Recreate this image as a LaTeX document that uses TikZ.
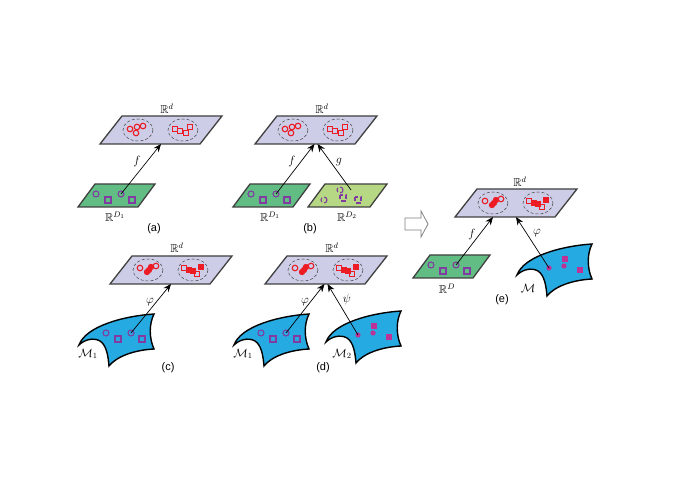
\documentclass[tikz,border=0pt]{standalone}
\usepackage{amsmath}
\usepackage{amssymb}
\usepackage{fontspec}
\newfontfamily\arialfont{Liberation Sans}
\usetikzlibrary{arrows.meta}
\definecolor{planelilac}{RGB}{205,205,232}
\definecolor{edgegray}{RGB}{64,64,64}
\definecolor{planegreen}{RGB}{97,189,132}
\definecolor{palegreen}{RGB}{182,216,132}
\definecolor{manicyan}{RGB}{38,170,226}
\definecolor{markred}{RGB}{237,28,36}
\definecolor{markpurple}{RGB}{128,60,160}
\definecolor{markmagenta}{RGB}{190,50,150}
\definecolor{hollowgray}{RGB}{128,128,128}

\tikzset{
  plane/.style={draw=edgegray,line width=1.3pt},
  clus/.style={draw=edgegray,densely dashed,line width=0.5pt},
  redpt/.style={draw=markred,line width=1.1pt},
  redfill/.style={draw=markred,fill=markred,line width=1.1pt},
  purpt/.style={draw=markpurple,line width=1.1pt},
  brokenpt/.style={purpt,dash pattern=on 4.5pt off 2.5pt},
  dotpt/.style={fill=markmagenta},
  maparrow/.style={-{Stealth[length=8pt,width=6.5pt]},line width=0.7pt},
  sheetstyle/.style={draw=black,fill=manicyan,line width=1.4pt},
  mathlbl/.style={font=\fontsize{11.5}{13}\selectfont},
  panel/.style={font=\arialfont\fontsize{11}{13}\selectfont},
  pics/topplane/.style={code={
    \draw[plane,fill=planelilac] (0,0) -- (100,0) -- (122,-28) -- (22,-28) -- cycle;
    \draw[clus] (38,-14) ellipse (15 and 11);
    \draw[clus] (83,-14) ellipse (15 and 11);
    \coordinate (-in) at (61,0);
    \coordinate (-inl) at (38,0);
  }},
  pics/openred/.style={code={
    \foreach \x/\y in {30/-15,36/-11,37/-17,43/-18}
      \draw[redpt] (\x,\y) circle (2.8);
    \foreach \x/\y in {75/-15,80/-13,86/-11,90/-17}
      \draw[redpt] (\x-2.5,\y-2.5) rectangle +(5,5);
  }},
  pics/mixred/.style={code={
    \foreach \x/\y in {30/-16,46/-18}
      \draw[redpt] (\x,\y) circle (2.8);
    \foreach \x/\y in {37/-12,39/-14,41/-17}
      \draw[redfill] (\x,\y) circle (2.6);
    \foreach \x/\y in {74/-16,87/-10}
      \draw[redpt] (\x-2.5,\y-2.5) rectangle +(5,5);
    \foreach \x/\y in {79/-14,83/-13,91/-17}
      \draw[redfill] (\x-2.5,\y-2.5) rectangle +(5,5);
  }},
  pics/greenplane/.style={code={
    \draw[plane,fill=planegreen] (0,0) -- (60,0) -- (77,-23) -- (17,-23) -- cycle;
    \foreach \x in {18,43}
      \draw[purpt] (\x,-13) circle (3);
    \foreach \x in {30,54}
      \draw[purpt] (\x-3,-10) rectangle +(6,6);
    \coordinate (-src) at (43,-13);
  }},
  pics/sheet/.style={code={
    \draw[sheetstyle] (0,0) .. controls (7,-19) and (45,-29) .. (75,-31)
      .. controls (70,-21) and (70,-7) .. (75,4)
      .. controls (56,5) and (38,11) .. (30,21)
      .. controls (29,9) and (27,0) .. (21,-4)
      .. controls (14,-8) and (5,-5) .. cycle;
  }},
  pics/openpurple/.style={code={
    \foreach \x in {27,52}
      \draw[purpt] (\x,-12) circle (3);
    \foreach \x in {39,63}
      \draw[purpt] (\x-3,-9) rectangle +(6,6);
    \coordinate (-src) at (52,-12);
  }},
  pics/dotpurple/.style={code={
    \foreach \x/\y in {32/-7,47/-9}
      \fill[dotpt] (\x,\y) circle (2.6);
    \foreach \x/\y in {48/-16,63/-5}
      \fill[dotpt] (\x-3,\y-3) rectangle +(6,6);
    \coordinate (-src) at (32,-7);
  }}
}

\begin{document}
\begin{tikzpicture}[x=1pt,y=-1pt,every node/.style={mathlbl}]
\useasboundingbox (0,0) rectangle (675,478);

\pic (ta) at (100,144) {topplane};
\pic at (100,144) {openred};
\pic (ga) at (78,207) {greenplane};
\node (rda) at (167,109) {$\mathbb{R}^d$};
\node (rsa) at (115,217) {$\mathbb{R}^{D_1}$};
\node (fa) at (137,162) {$f$};
\node[panel] (pa) at (154,229) {(a)};
\draw[maparrow] (ga-src) -- (ta-in);

\pic (tb) at (255,144) {topplane};
\pic at (255,144) {openred};
\pic (gb) at (233,207) {greenplane};
\draw[plane,fill=palegreen] (308,207) -- (370,207) -- (387,184) -- (325,184) -- cycle;
\draw[brokenpt] (324,200) circle (3);
\draw[brokenpt] (340,190) circle (3);
\draw[brokenpt] (340,195) rectangle +(6,6);
\draw[brokenpt] (355,197) rectangle +(6,6);
\coordinate (gsrc) at (351,190);
\node (rdb) at (322,109) {$\mathbb{R}^d$};
\node (rsb) at (270,217) {$\mathbb{R}^{D_1}$};
\node (rsb2) at (347,217) {$\mathbb{R}^{D_2}$};
\node (fb) at (292,162) {$f$};
\node (gb) at (339,162) {$g$};
\node[panel] (pb) at (310,229) {(b)};
\draw[maparrow] (gb-src) -- ([xshift=-1.5pt]tb-in);
\draw[maparrow] (gsrc) -- ([xshift=1.5pt]tb-in);

\pic (tc) at (110,284) {topplane};
\pic at (110,284) {mixred};
\pic at (79,345) {sheet};
\pic (mc) at (79,345) {openpurple};
\node (rdc) at (177,248) {$\mathbb{R}^d$};
\node (phic) at (150,302) {$\varphi$};
\node (mlc) at (88,354) {$\mathcal{M}_1$};
\node[panel] (pc) at (168,368) {(c)};
\draw[maparrow] (mc-src) -- (tc-in);

\pic (td) at (265,284) {topplane};
\pic at (265,284) {mixred};
\pic at (234,345) {sheet};
\pic (md) at (234,345) {openpurple};
\pic at (326,342) {sheet};
\pic (md2) at (326,342) {dotpurple};
\node (rdd) at (332,248) {$\mathbb{R}^d$};
\node (phid) at (305,302) {$\varphi$};
\node (psid) at (347,300) {$\psi$};
\node (mld) at (243,354) {$\mathcal{M}_1$};
\node (mld2) at (342,354) {$\mathcal{M}_2$};
\node[panel] (pd) at (323,368) {(d)};
\draw[maparrow] (md-src) -- ([xshift=-1.5pt]td-in);
\draw[maparrow] (md2-src) -- ([xshift=1.5pt]td-in);

\draw[hollowgray,line width=0.8pt,fill=white] (405,218) -- (421,218) -- (421,211) -- (428,224)
  -- (421,237) -- (421,230) -- (405,230) -- cycle;

\pic (te) at (455,217) {topplane};
\pic at (455,217) {mixred};
\pic (ge) at (413,278) {greenplane};
\pic at (517,275) {sheet};
\pic (me) at (517,275) {dotpurple};
\node (rde) at (520,182) {$\mathbb{R}^d$};
\node (rse) at (447,289) {$\mathbb{R}^{D}$};
\node (fe) at (472,235) {$f$};
\node (phie) at (537,233) {$\varphi$};
\node (mle) at (528,288) {$\mathcal{M}$};
\node[panel] (pe) at (502,300) {(e)};
\draw[maparrow] (ge-src) -- (te-inl);
\draw[maparrow] (me-src) -- (te-in);
\end{tikzpicture}
\end{document}
